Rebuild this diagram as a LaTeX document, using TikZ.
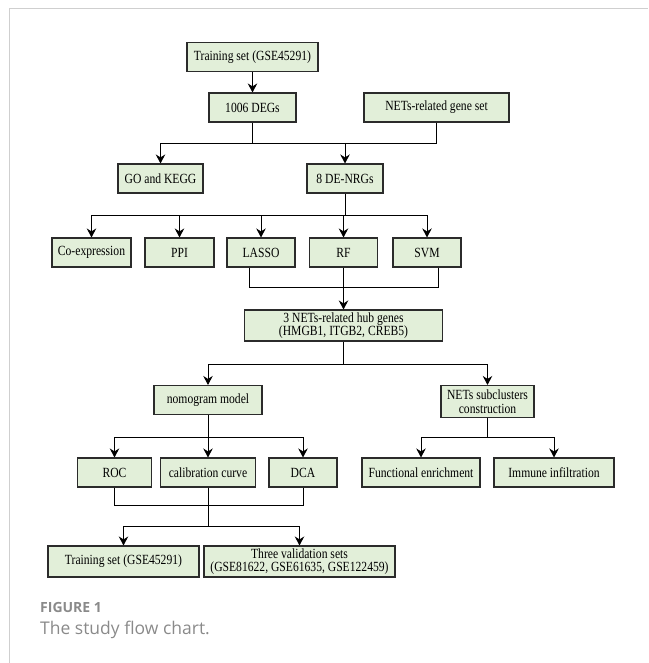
\documentclass[tikz,border=0pt]{standalone}
\usepackage{fontspec}
\setmainfont{Liberation Serif}
\newfontfamily\boxfont[FakeStretch=0.83]{Liberation Serif}
\newfontfamily\captionfont{Open Sans}
\usepackage{tikz}
\usetikzlibrary{arrows.meta, positioning}
\definecolor{boxfill}{HTML}{E2EFD9}
\definecolor{boxline}{HTML}{2B2B2B}
\definecolor{framegray}{HTML}{CFCFCF}
\definecolor{captiongray}{HTML}{8A8A8A}

\begin{document}
\begin{tikzpicture}[x=1pt, y=-1pt,
  box/.style={draw=boxline, fill=boxfill, line width=1.1pt, minimum height=29pt,
              inner sep=1pt, align=center, font=\boxfont\fontsize{14}{13.5}\selectfont},
  link/.style={draw=black, line width=0.9pt},
  arrow/.style={link, -{Stealth[length=9pt, width=9.5pt, inset=3pt]}}]
  \useasboundingbox (0, 0) rectangle (648, 663);
  \draw[framegray, line width=1pt] (9, 663) -- (9, 9) -- (648, 9);

  \node[box, minimum width=131pt]                   (train)  at (252.5, 57)   {Training set (GSE45291)};
  \node[box, minimum width=87pt]                    (degs)   at (252.5, 107.5) {1006 DEGs};
  \node[box, minimum width=145pt]                   (gene)   at (436.5, 107.5) {NETs-related gene set};
  \node[box, minimum width=85pt]                    (go)     at (160.5, 178.5) {GO and KEGG};
  \node[box, minimum width=76pt]                    (dnrg)   at (345, 178.5)   {8 DE-NRGs};
  \node[box, minimum width=79pt]                    (co)     at (91.5, 252.5)  {Co-expression};
  \node[box, minimum width=69pt]                    (ppi)    at (179.5, 252.5) {PPI};
  \node[box, minimum width=68pt]                    (lasso)  at (261, 252.5)   {LASSO};
  \node[box, minimum width=68pt]                    (rf)     at (343.5, 252.5) {RF};
  \node[box, minimum width=68pt]                    (svm)    at (427, 252.5)   {SVM};
  \node[box, minimum width=198pt, minimum height=31pt] (hub) at (343.5, 325.5) {3 NETs-related hub genes\\(HMGB1, ITGB2, CREB5)};
  \node[box, minimum width=108pt]                   (nomo)   at (208, 400)     {nomogram model};
  \node[box, minimum width=93pt, minimum height=32pt] (nets) at (487.5, 401.5) {NETs subclusters\\construction};
  \node[box, minimum width=74pt]                    (roc)    at (114.5, 472.5) {ROC};
  \node[box, minimum width=95pt]                    (cal)    at (208, 472.5)   {calibration curve};
  \node[box, minimum width=68pt]                    (dca)    at (303, 472.5)   {DCA};
  \node[box, minimum width=118pt]                   (fe)     at (421, 472.5)   {Functional enrichment};
  \node[box, minimum width=120pt]                   (imm)    at (554, 472.5)   {Immune infiltration};
  \node[box, minimum width=151pt, minimum height=31pt] (train2) at (123.5, 561.5) {Training set (GSE45291)};
  \node[box, minimum width=191pt, minimum height=31pt] (val)  at (299.5, 561.5) {Three validation sets\\(GSE81622, GSE61635, GSE122459)};

  \coordinate (s1) at (252.5, 143);
  \coordinate (s2) at (345, 215);
  \coordinate (m1) at (249, 287);
  \coordinate (m2) at (438, 287);
  \coordinate (s4) at (343.5, 364);
  \coordinate (s5) at (208, 437);
  \coordinate (s6) at (487.5, 437);
  \coordinate (m3) at (208, 505);
  \coordinate (s7) at (208, 526);

  \draw[arrow] (train) -- (degs);
  \draw[link]  (degs) -- (s1);
  \draw[link]  (gene) |- (s1);
  \draw[arrow] (s1) -| (go);
  \draw[arrow] (dnrg |- s1) -- (dnrg);

  \draw[link]  (dnrg) -- (s2);
  \draw[arrow] (s2) -| (co);
  \draw[arrow] (s2) -| (svm);
  \foreach \n in {ppi, lasso, rf}
    \draw[arrow] (\n |- s2) -- (\n);

  \draw[link]  (lasso.south -| m1) -- (m1) -- (m2) -- (svm.south -| m2);
  \draw[arrow] (rf) -- (hub);

  \draw[link]  (hub) -- (s4);
  \draw[arrow] (s4) -| (nomo);
  \draw[arrow] (s4) -| (nets);

  \draw[link]  (nomo) -- (s5);
  \draw[arrow] (s5) -| (roc);
  \draw[arrow] (s5) -- (cal);
  \draw[arrow] (s5) -| (dca);

  \draw[link]  (nets) -- (s6);
  \draw[arrow] (s6) -| (fe);
  \draw[arrow] (s6) -| (imm);

  \draw[link]  (roc) |- (m3);
  \draw[link]  (dca) |- (m3);
  \draw[link]  (cal) -- (s7);
  \draw[arrow] (s7) -| (train2);
  \draw[arrow] (s7) -| (val);

  \node[anchor=base west, inner sep=0, text=captiongray,
        font={\captionfont\bfseries\fontsize{14}{16}\selectfont}] (fig) at (40, 612) {FIGURE 1};
  \node[anchor=base west, inner sep=0, text=captiongray,
        font={\captionfont\fontsize{17.5}{20}\selectfont}]        (cap) at (40, 634) {The study flow chart.};
\end{tikzpicture}
\end{document}
